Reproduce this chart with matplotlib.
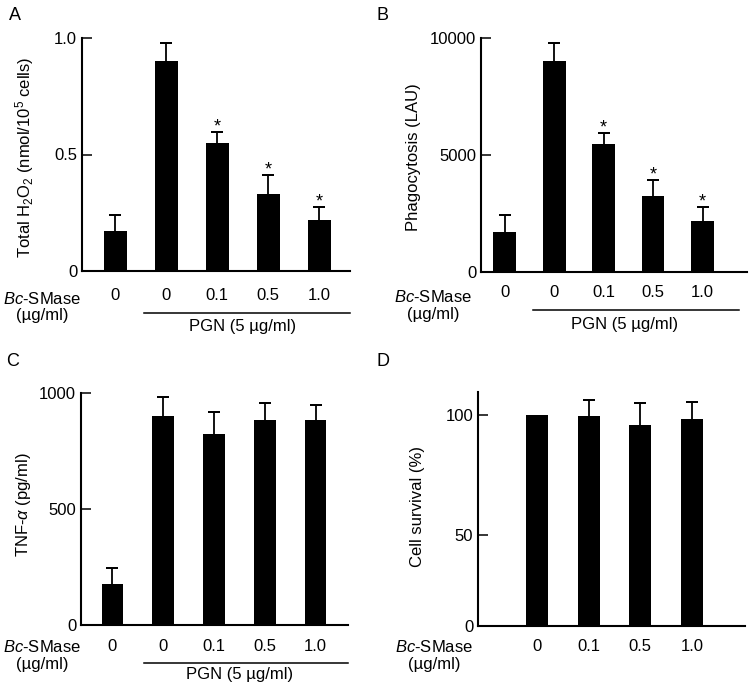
import numpy as np
import matplotlib.pyplot as plt

plt.rcParams['font.family'] = ['Liberation Sans', 'DejaVu Sans']
plt.rcParams['mathtext.fontset'] = 'custom'
plt.rcParams['mathtext.rm'] = 'Liberation Sans'
plt.rcParams['mathtext.it'] = 'Liberation Sans:italic'
plt.rcParams['font.size'] = 12

# wartosci
dose_pgn = ['0', '0', '0.1', '0.5', '1.0']
dose_d = ['0', '0.1', '0.5', '1.0']

h2o2 = [0.17, 0.90, 0.55, 0.33, 0.22]
h2o2_err = [0.07, 0.08, 0.045, 0.08, 0.055]
phago = [1700, 9000, 5450, 3250, 2170]
phago_err = [720, 780, 470, 670, 590]
tnf = [175, 900, 825, 885, 885]
tnf_err = [72, 82, 95, 70, 65]
survival = [100, 99.5, 96, 98.5]
survival_err = [0, 7, 9, 7]
signif = [False, False, True, True, True]

W, H = 751, 690
fig = plt.figure(figsize=(W / 100, H / 100), dpi=100)


def px(x, y):
    return x / W, 1 - y / H


def panel(rect, vals, errs, labels, xlim, width, ylim, yticks, yticklabels,
          ylabel, ylabel_xy, cat_pt, smase_x, smase_y, pgn=None, stars=None):
    left, top, right, bottom = rect
    ax = fig.add_axes([left / W, 1 - bottom / H, (right - left) / W, (bottom - top) / H])
    hpx = bottom - top
    x = np.arange(len(vals))
    vals = np.array(vals)
    errs = np.array(errs)
    ax.bar(x, vals, width=width, color='k', linewidth=0)
    # tylko gorne slupki bledow
    m = errs > 0
    ax.vlines(x[m], vals[m], vals[m] + errs[m], color='k', lw=1.3)
    ax.errorbar(x[m], vals[m] + errs[m], yerr=0, fmt='none', ecolor='k',
                elinewidth=1.3, capsize=4, capthick=1.3)
    ax.set_xlim(xlim)
    ax.set_ylim(ylim)
    ax.set_yticks(yticks)
    ax.set_yticklabels(yticklabels)
    ax.set_xticks([])
    for s in ['top', 'right']:
        ax.spines[s].set_visible(False)
    for s in ['left', 'bottom']:
        ax.spines[s].set_linewidth(1.5)
    ax.tick_params(axis='y', direction='in', length=7, width=1.1, pad=3.5, labelsize=12)
    ax.set_ylabel(ylabel, fontsize=12)
    ax.yaxis.set_label_coords(*ylabel_xy)
    # etykiety dawek pod osia
    for xi, lab in zip(x, labels):
        ax.annotate(lab, xy=(xi, 0), xycoords=ax.get_xaxis_transform(),
                    xytext=(0, -cat_pt), textcoords='offset points',
                    ha='center', va='center', fontsize=12)
    fig.text(*px(smase_x, smase_y), r'$\mathit{Bc}$-SMase', ha='center', va='center', fontsize=12)
    fig.text(*px(smase_x, smase_y + 17), '(µg/ml)', ha='center', va='center', fontsize=12)
    if pgn is not None:
        x0, x1, yl, xt, yt = pgn
        ax.plot([x0, x1], [-yl / hpx, -yl / hpx], color='k', lw=1.1,
                transform=ax.get_xaxis_transform(), clip_on=False)
        ax.text(xt, -yt / hpx, 'PGN (5 µg/ml)', transform=ax.get_xaxis_transform(),
                ha='center', va='center', fontsize=12)
    if stars is not None:
        for xi, v, e, s in zip(x, vals, errs, stars):
            if s:
                ax.annotate('*', xy=(xi, v + e), xytext=(0, 0.5), textcoords='offset points',
                            ha='center', va='baseline', fontsize=13)
    return ax


panel((82, 38, 350, 271), h2o2, h2o2_err, dose_pgn, (-0.65, 4.6), 0.45,
      (0, 1.0), [0, 0.5, 1.0], ['0', '0.5', '1.0'],
      r'Total H$_2$O$_2$ (nmol/10$^5$ cells)', (-0.17, 0.49), 18, 42, 299,
      pgn=(0.57, 4.6, 42, 2.5, 55), stars=signif)

panel((481, 38, 747, 272), phago, phago_err, dose_pgn, (-0.48, 4.9), 0.46,
      (0, 10000), [0, 5000, 10000], ['0', '5000', '10000'],
      'Phagocytosis (LAU)', (-0.225, 0.49), 15, 433, 297,
      pgn=(0.57, 4.73, 38, 2.43, 53), stars=signif)

panel((81, 393, 348, 625), tnf, tnf_err, dose_pgn, (-0.62, 4.64), 0.43,
      (0, 1000), [0, 500, 1000], ['0', '500', '1000'],
      r'TNF-$\alpha$ (pg/ml)', (-0.18, 0.517), 15.5, 42, 647,
      pgn=(0.62, 4.64, 38, 2.51, 50))

panel((478, 392, 745, 626), survival, survival_err, dose_d, (-1.15, 4.03), 0.43,
      (12.1, 109.7), [12.1, 50, 100], ['0', '50', '100'],
      'Cell survival (%)', (-0.2, 0.51), 14.5, 434, 647)

for letter, (lx, ly) in zip('ABCD', [(15, 15), (383, 15), (13, 361), (383, 361)]):
    fig.text(*px(lx, ly), letter, ha='center', va='center', fontsize=13)

fig.savefig('out.png', dpi=100)
